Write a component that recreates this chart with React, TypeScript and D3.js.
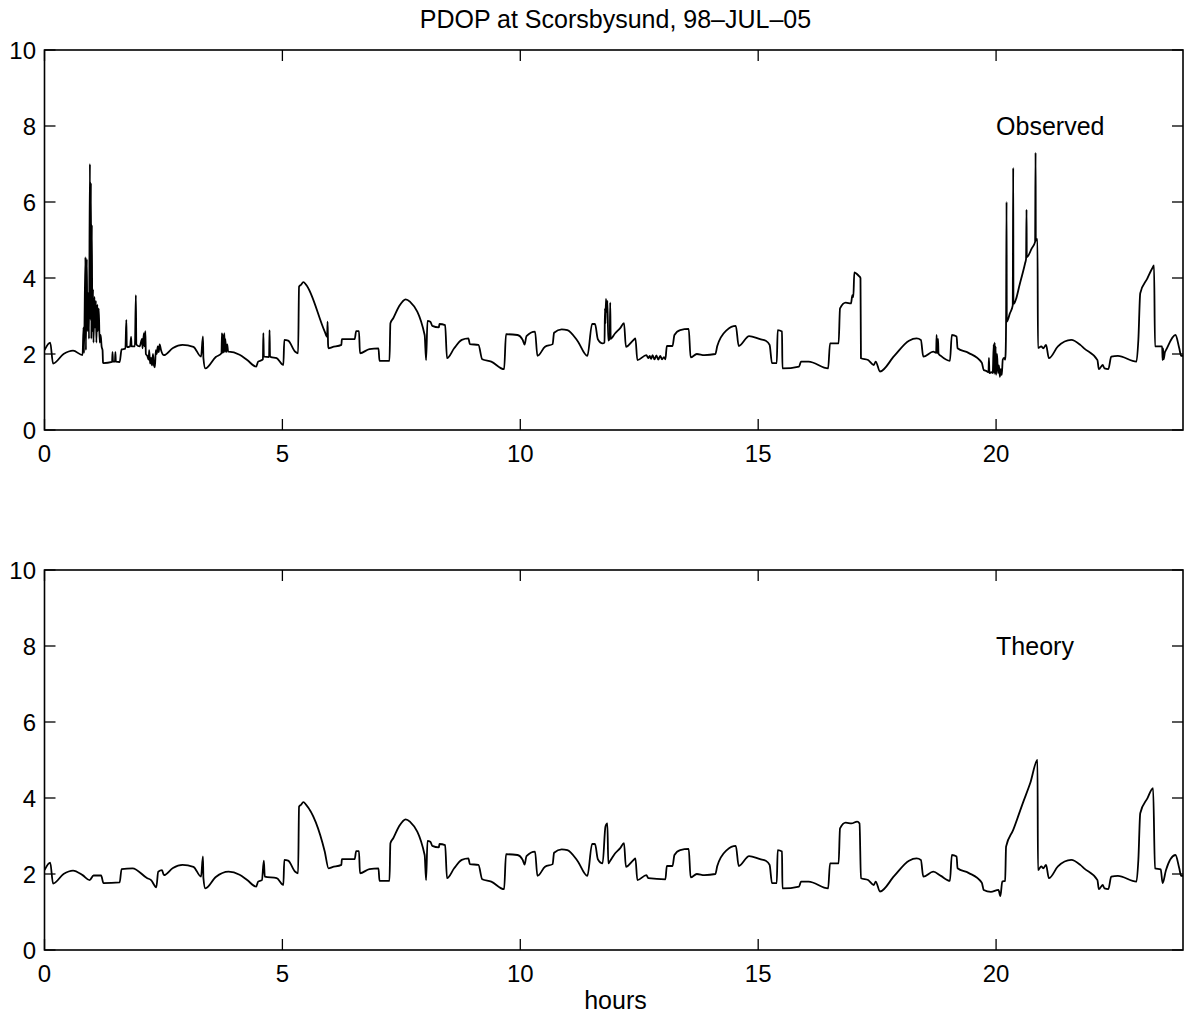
import React from 'react';
import * as d3 from 'd3';

type Pt = [number, number];

const xTicks = [0, 5, 10, 15, 20];
const yTicks = [0, 2, 4, 6, 8, 10];
const titleText = 'PDOP at Scorsbysund, 98\u2013JUL\u201305';
const panelLabels = ['Observed', 'Theory'];
const xLabel = 'hours';

// Theoretical PDOP (hours, value)
const theory: Pt[] = [
  [0, 2.1], [0.12, 2.3], [0.18, 1.75], [0.4, 2.0], [0.6, 2.09], [0.8, 1.97], [0.95, 1.84], [1.03, 1.96], [1.19, 1.96],
  [1.24, 1.76], [1.58, 1.78], [1.62, 2.13], [1.85, 2.15], [2.16, 1.89], [2.24, 1.84], [2.35, 1.65], [2.39, 2.06],
  [2.47, 2.1], [2.51, 1.97], [2.7, 2.16], [2.9, 2.24], [3.13, 2.19], [3.29, 1.93], [3.33, 2.46], [3.34, 1.89],
  [3.38, 1.62], [3.6, 1.92], [3.87, 2.06], [4.1, 1.98], [4.26, 1.84], [4.45, 1.67], [4.49, 1.8], [4.57, 1.84],
  [4.61, 2.35], [4.63, 1.93], [4.88, 1.89], [5.02, 1.71], [5.04, 2.37], [5.12, 2.35], [5.27, 2.06], [5.33, 2.02],
  [5.35, 3.77], [5.39, 3.82], [5.44, 3.89], [5.5, 3.82], [5.89, 2.59], [5.97, 2.15], [6.05, 2.18], [6.24, 2.24],
  [6.25, 2.39], [6.52, 2.39], [6.55, 2.6], [6.61, 2.6], [6.63, 2.02], [6.83, 2.13], [7.02, 2.15], [7.04, 1.82],
  [7.25, 1.82], [7.27, 2.81], [7.33, 2.94], [7.45, 3.25], [7.59, 3.44], [7.68, 3.38], [7.99, 2.5], [8.02, 1.84],
  [8.05, 2.87], [8.11, 2.85], [8.15, 2.74], [8.29, 2.7], [8.3, 2.79], [8.42, 2.76], [8.46, 1.89], [8.61, 2.15],
  [8.77, 2.37], [8.91, 2.41], [8.94, 2.26], [9.12, 2.24], [9.2, 1.86], [9.39, 1.8], [9.66, 1.6], [9.7, 2.52],
  [9.94, 2.5], [10.05, 2.37], [10.09, 2.25], [10.13, 2.47], [10.31, 2.59], [10.36, 1.95], [10.52, 2.19],
  [10.68, 2.26], [10.71, 2.56], [10.87, 2.65], [10.99, 2.63], [11.2, 2.35], [11.41, 1.95], [11.51, 2.79], [11.57, 2.79],
  [11.63, 2.39], [11.73, 2.28], [11.79, 3.25], [11.83, 3.33], [11.85, 2.28], [11.88, 2.33], [11.99, 2.54],
  [12.1, 2.68], [12.18, 2.81], [12.22, 2.19], [12.38, 2.37], [12.42, 2.41], [12.46, 1.84], [12.65, 1.97],
  [12.69, 1.89], [13.05, 1.86], [13.08, 2.21], [13.2, 2.21], [13.24, 2.5], [13.36, 2.63], [13.54, 2.66],
  [13.58, 1.91], [13.71, 2.0], [13.87, 1.97], [14.1, 2.0], [14.14, 2.21], [14.34, 2.63], [14.53, 2.74],
  [14.59, 2.21], [14.81, 2.47], [15.04, 2.39], [15.16, 2.35], [15.24, 2.24], [15.29, 1.76], [15.39, 1.76],
  [15.41, 2.63], [15.5, 2.59], [15.51, 1.62], [15.86, 1.67], [15.9, 1.8], [16.06, 1.8], [16.47, 1.62],
  [16.51, 2.28], [16.69, 2.28], [16.72, 3.2], [16.84, 3.35], [16.96, 3.33], [17.08, 3.38], [17.13, 3.33],
  [17.16, 1.89], [17.31, 1.84], [17.43, 1.71], [17.47, 1.8], [17.56, 1.54], [17.86, 1.95], [18.17, 2.35],
  [18.33, 2.41], [18.42, 2.37], [18.47, 1.93], [18.68, 2.06], [18.84, 1.95], [19.03, 1.82], [19.07, 2.5],
  [19.17, 2.46], [19.19, 2.15], [19.42, 2.03], [19.7, 1.77], [19.74, 1.58], [19.89, 1.53], [20.05, 1.58],
  [20.09, 1.42], [20.13, 1.8], [20.19, 1.82], [20.21, 2.72], [20.36, 3.16], [20.56, 3.86], [20.72, 4.4], [20.87, 5.0],
  [20.88, 2.1], [20.95, 2.2], [20.99, 2.15], [21.05, 2.24], [21.11, 1.89], [21.3, 2.2], [21.58, 2.37],
  [21.77, 2.24], [21.85, 2.15], [22.13, 1.84], [22.16, 1.6], [22.24, 1.71], [22.28, 1.62], [22.36, 1.6],
  [22.42, 1.93], [22.56, 1.95], [22.95, 1.8], [22.99, 2.37], [23.03, 3.6], [23.18, 3.99], [23.3, 4.26],
  [23.34, 2.15], [23.46, 2.12], [23.5, 1.76], [23.57, 2.1], [23.77, 2.5], [23.85, 2.15], [23.89, 1.95], [24, 1.95],
];

// Observed departures from theory (hours, value)
const obsBurst: Pt[] = [
  [0.82, 2.7], [0.83, 2.02], [0.86, 4.55], [0.87, 2.1], [0.89, 4.5], [0.9, 2.6], [0.92, 3.6], [0.935, 2.4],
  [0.955, 7.0], [0.965, 2.9], [0.975, 6.5], [0.985, 2.4], [0.995, 5.4], [1.005, 2.6], [1.02, 3.7], [1.03, 2.3],
  [1.05, 3.5], [1.06, 2.7], [1.08, 3.4], [1.09, 2.3], [1.11, 3.3], [1.12, 2.6], [1.14, 3.2], [1.16, 2.3],
  [1.18, 2.5], [1.2, 2.2], [1.22, 2.1], [1.23, 1.78],
];
const obsEarly: Pt[] = [
  [1.42, 1.79], [1.43, 2.05], [1.44, 1.8], [1.48, 1.8], [1.49, 2.05], [1.5, 1.8], [1.58, 1.79], [1.62, 2.12],
  [1.7, 2.14], [1.72, 2.9], [1.73, 2.18], [1.8, 2.2], [1.82, 2.45], [1.83, 2.2], [1.9, 2.2], [1.92, 3.55],
  [1.93, 2.25], [2.0, 2.2], [2.05, 2.4], [2.06, 2.15], [2.09, 2.55], [2.1, 2.2], [2.12, 2.6], [2.13, 2.0],
  [2.16, 1.95], [2.19, 1.85], [2.2, 2.1], [2.22, 1.75], [2.24, 1.9], [2.26, 1.7], [2.28, 2.0], [2.3, 1.7],
  [2.32, 1.65], [2.34, 2.1], [2.36, 2.0], [2.38, 2.2], [2.4, 2.05], [2.42, 2.25], [2.45, 2.1], [2.51, 1.97],
];
const obsMid1: Pt[] = [
  [3.72, 2.02], [3.73, 2.55], [3.74, 2.03], [3.75, 2.5], [3.76, 2.04], [3.78, 2.55], [3.79, 2.05], [3.8, 2.4],
  [3.82, 2.05], [3.84, 2.25], [3.86, 2.06],
];
const obsMid2: Pt[] = [
  [4.59, 1.86], [4.6, 2.55], [4.61, 1.95], [4.62, 1.93], [4.72, 1.92], [4.73, 2.63], [4.74, 1.93], [4.76, 1.92],
];
const obsMid3: Pt[] = [[5.94, 2.45], [5.95, 2.85], [5.96, 2.25]];
const obsNoon: Pt[] = [
  [11.77, 2.3], [11.78, 3.2], [11.79, 2.8], [11.8, 3.45], [11.82, 3.1], [11.83, 3.4], [11.85, 2.35], [11.88, 2.4],
  [11.89, 3.35], [11.9, 2.4],
];
const obsJitter: Pt[] = [
  [12.72, 1.95], [12.75, 1.87], [12.78, 1.97], [12.82, 1.86], [12.86, 1.96], [12.9, 1.85], [12.94, 1.95],
  [12.98, 1.86], [13.02, 1.92],
];
const obsStep: Pt[] = [
  [16.95, 3.33], [16.98, 3.55], [17.0, 3.5], [17.02, 4.15], [17.08, 4.1], [17.12, 4.05], [17.15, 4.0],
];
const obsEve: Pt[] = [[18.74, 2.03], [18.75, 2.5], [18.76, 2.02], [18.78, 2.4], [18.79, 2.01]];
const obsNoise: Pt[] = [
  [19.8, 1.55], [19.84, 1.52], [19.85, 1.9], [19.86, 1.5], [19.9, 1.52], [19.93, 1.5], [19.95, 2.25],
  [19.96, 1.48], [19.97, 2.3], [19.98, 1.5], [19.99, 2.2], [20.0, 1.45], [20.02, 2.0], [20.04, 1.5],
  [20.06, 1.7], [20.08, 1.4], [20.1, 1.6], [20.12, 1.45], [20.14, 1.85], [20.17, 1.9], [20.19, 1.85],
];
const obsSurge: Pt[] = [
  [20.2, 2.0], [20.21, 2.8], [20.22, 6.0], [20.225, 2.85], [20.29, 3.07], [20.35, 3.28], [20.36, 6.9],
  [20.365, 3.32], [20.39, 3.35], [20.5, 3.85], [20.61, 4.39], [20.63, 4.5], [20.64, 5.8], [20.645, 4.55],
  [20.75, 4.78], [20.82, 4.95], [20.83, 7.3], [20.835, 4.98], [20.87, 5.02], [20.88, 2.16],
];
const obsLate: Pt[] = [
  [23.28, 4.25], [23.32, 4.33], [23.34, 2.2], [23.46, 2.2], [23.49, 2.2], [23.5, 1.84], [23.51, 2.15],
  [23.52, 1.86], [23.55, 2.05],
];

const observedPatches: Pt[][] = [
  obsBurst, obsEarly, obsMid1, obsMid2, obsMid3, obsNoon, obsJitter, obsStep, obsEve, obsNoise, obsSurge, obsLate,
];

function applyPatches(base: Pt[], patches: Pt[][]): Pt[] {
  const kept = base.filter(([h]) => !patches.some((p) => h >= p[0][0] && h <= p[p.length - 1][0]));
  const all = kept.concat(...patches);
  return all.sort((a, b) => a[0] - b[0]);
}

const observed = applyPatches(theory, observedPatches);

const W = 1184;
const H = 1021;
const left = 44.5;
const rightFrame = 1183;
const panelH = 380;
const panelTops = [50, 570];
const FONT = 'Liberation Sans, Arial, Helvetica, sans-serif';

const x = d3.scaleLinear().domain([0, 24]).range([left, 1186.4]);

function Panel({ top, data, label, id }: { top: number; data: Pt[]; label: string; id: string }) {
  const y = d3.scaleLinear().domain([0, 10]).range([top + panelH, top]);
  const line = d3
    .line<Pt>()
    .x((d) => x(d[0]))
    .y((d) => y(d[1]))
    .curve(d3.curveMonotoneX);
  const bottom = top + panelH;
  const tickLen = 11;
  return (
    <g>
      <defs>
        <clipPath id={id}>
          <rect x={left} y={top} width={rightFrame - left} height={panelH} />
        </clipPath>
      </defs>
      <path d={line(data) || ''} fill="none" stroke="#000" strokeWidth={1.8} clipPath={`url(#${id})`} strokeLinejoin="round" />
      <rect x={left} y={top} width={rightFrame - left} height={panelH} fill="none" stroke="#000" strokeWidth={1.6} />
      {xTicks.map((t) => (
        <g key={'x' + t}>
          <line x1={x(t)} x2={x(t)} y1={bottom} y2={bottom - tickLen} stroke="#000" strokeWidth={1.3} />
          <line x1={x(t)} x2={x(t)} y1={top} y2={top + tickLen} stroke="#000" strokeWidth={1.3} />
          <text x={x(t)} y={bottom + 32} textAnchor="middle" fontFamily={FONT} fontSize={24} fill="#000">
            {t}
          </text>
        </g>
      ))}
      {yTicks.map((t) => (
        <g key={'y' + t}>
          <line x1={left} x2={left + tickLen} y1={y(t)} y2={y(t)} stroke="#000" strokeWidth={1.3} />
          <line x1={rightFrame} x2={rightFrame - tickLen} y1={y(t)} y2={y(t)} stroke="#000" strokeWidth={1.3} />
          <text x={36} y={y(t)} dy="0.36em" textAnchor="end" fontFamily={FONT} fontSize={24} fill="#000">
            {t}
          </text>
        </g>
      ))}
      <text x={x(20.0)} y={top + 85} fontFamily={FONT} fontSize={25} fill="#000">
        {label}
      </text>
    </g>
  );
}

export default function App() {
  return (
    <svg
      width={W}
      height={H}
      viewBox={`0 0 ${W} ${H}`}
      style={{ position: 'absolute', left: 0, top: 0, background: '#fff' }}
    >
      <rect x={0} y={0} width={W} height={H} fill="#fff" />
      <text x={(left + 1186.4) / 2} y={28} textAnchor="middle" fontFamily={FONT} fontSize={25} fill="#000">
        {titleText}
      </text>
      <Panel top={panelTops[0]} data={observed} label={panelLabels[0]} id="clipObs" />
      <Panel top={panelTops[1]} data={theory} label={panelLabels[1]} id="clipTheo" />
      <text x={(left + 1186.4) / 2} y={1009} textAnchor="middle" fontFamily={FONT} fontSize={25} fill="#000">
        {xLabel}
      </text>
    </svg>
  );
}
